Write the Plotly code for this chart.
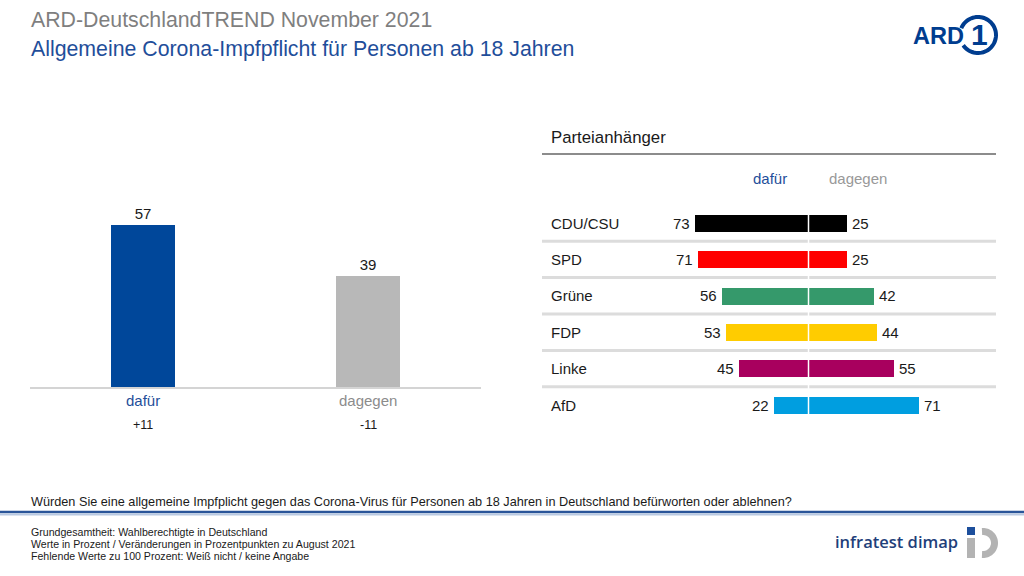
import plotly.graph_objects as go
import numpy as np

W, H = 1024, 576


def px(x):
    return x / W


def py(y):
    return 1 - y / H


FONT = "Liberation Sans, Arial, sans-serif"
BLUE = "#00479a"
GRAY = "#b8b8b8"
TEXT = "#1a1a1a"

# ---------------- data ----------------
title_1 = "ARD-DeutschlandTREND November 2021"
title_2 = "Allgemeine Corona-Impfpflicht für Personen ab 18 Jahren"
question = ("Würden Sie eine allgemeine Impfplicht gegen das Corona-Virus für Personen ab 18 Jahren "
            "in Deutschland befürworten oder ablehnen?")
footer_lines = [
    "Grundgesamtheit: Wahlberechtigte in Deutschland",
    "Werte in Prozent / Veränderungen in Prozentpunkten zu August 2021",
    "Fehlende Werte zu 100 Prozent: Weiß nicht / keine Angabe",
]

total_labels = ["dafür", "dagegen"]
total_values = [57, 39]
total_changes = ["+11", "-11"]
total_colors = [BLUE, GRAY]
total_label_colors = ["#1f4e9a", "#8c8c8c"]

panel_title = "Parteianhänger"
parties = ["CDU/CSU", "SPD", "Grüne", "FDP", "Linke", "AfD"]
party_for = [73, 71, 56, 53, 45, 22]
party_against = [25, 25, 42, 44, 55, 71]
party_colors = ["#000000", "#ff0000", "#35996b", "#ffcc00", "#a8005e", "#009ee0"]

# ---------------- figure ----------------
fig = go.Figure()

# Left: overall bars
fig.add_trace(go.Bar(
    x=total_labels, y=total_values,
    marker=dict(color=total_colors, line=dict(width=0)),
    width=0.284,
    text=[str(v) for v in total_values], textposition="outside",
    textfont=dict(size=15, color=TEXT, family=FONT),
    cliponaxis=False, showlegend=False, hoverinfo="skip",
    xaxis="x", yaxis="y",
))

# Right: party butterfly bars
fig.add_trace(go.Bar(
    y=parties, x=[-v for v in party_for], orientation="h",
    marker=dict(color=party_colors, line=dict(width=0)),
    width=0.467, showlegend=False, hoverinfo="skip",
    xaxis="x2", yaxis="y2",
))
fig.add_trace(go.Bar(
    y=parties, x=party_against, orientation="h",
    marker=dict(color=party_colors, line=dict(width=0)),
    width=0.467, showlegend=False, hoverinfo="skip",
    xaxis="x2", yaxis="y2",
))

center_px = 808.5
scale = 1.55
row_top, row_bot = 204.8, 423.2

fig.update_layout(
    width=W, height=H,
    margin=dict(l=0, r=0, t=0, b=0),
    paper_bgcolor="white", plot_bgcolor="white",
    font=dict(family=FONT, color=TEXT),
    barmode="relative",
    bargap=0,
    xaxis=dict(domain=[px(30), px(481)], range=[-0.5, 1.5], type="category",
               showticklabels=False, showgrid=False, zeroline=False,
               showline=True, linecolor="#d4d4d4", linewidth=2, ticks=""),
    yaxis=dict(domain=[py(387), py(200)], range=[0, 187 / 2.842],
               visible=False, showgrid=False, zeroline=False),
    xaxis2=dict(domain=[px(620), px(996)], anchor="y2",
                range=[(620 - center_px) / scale, (996 - center_px) / scale],
                visible=False, showgrid=False, zeroline=False),
    yaxis2=dict(domain=[py(row_bot), py(row_top)], anchor="x2", type="category",
                range=[5.5, -0.5], visible=False, showgrid=False, zeroline=False),
)

shapes = []
# row separators
for i in range(len(parties) - 1):
    shapes.append(dict(type="line", xref="paper", yref="y2",
                       x0=px(542), x1=px(996), y0=i + 0.5, y1=i + 0.5,
                       line=dict(color="#dcdcdc", width=3), layer="below"))
# white centre line
shapes.append(dict(type="line", xref="x2", yref="paper", x0=0, x1=0,
                   y0=py(row_bot), y1=py(row_top),
                   line=dict(color="white", width=1.5), layer="above"))
# panel title underline
shapes.append(dict(type="line", xref="paper", yref="paper",
                   x0=px(542), x1=px(996), y0=py(154), y1=py(154),
                   line=dict(color="#8c8c8c", width=2)))
# footer rule
shapes.append(dict(type="line", xref="paper", yref="paper",
                   x0=0, x1=1, y0=py(512), y1=py(512),
                   line=dict(color="#2a5599", width=2.5)))
shapes.append(dict(type="line", xref="paper", yref="paper",
                   x0=0, x1=1, y0=py(514.5), y1=py(514.5),
                   line=dict(color="#b9c9e2", width=2)))

# ARD logo ring
cx, cy, r = 978, 35, 18
ang = np.linspace(np.deg2rad(-145), np.deg2rad(158), 60)
pts = [(px(cx + r * np.cos(a)), py(cy - r * np.sin(a))) for a in ang]
path = "M " + " L ".join(f"{x:.5f},{y:.5f}" for x, y in pts)
shapes.append(dict(type="path", xref="paper", yref="paper", path=path,
                   line=dict(color="#003d8f", width=4)))

# infratest dimap logo
icx, icy, ir = 983, 543, 11.5
ang2 = np.linspace(np.deg2rad(95), np.deg2rad(-95), 40)
pts2 = [(px(icx + ir * np.cos(a)), py(icy - ir * np.sin(a))) for a in ang2]
path2 = "M " + " L ".join(f"{x:.5f},{y:.5f}" for x, y in pts2)
shapes.append(dict(type="path", xref="paper", yref="paper", path=path2,
                   line=dict(color="#b3b3b3", width=7)))
shapes.append(dict(type="rect", xref="paper", yref="paper",
                   x0=px(967), x1=px(975), y0=py(535), y1=py(527),
                   fillcolor="#1d4f9c", line=dict(width=0)))
shapes.append(dict(type="rect", xref="paper", yref="paper",
                   x0=px(967), x1=px(975), y0=py(558), y1=py(538),
                   fillcolor="#b3b3b3", line=dict(width=0)))
fig.update_layout(shapes=shapes)

ann = []


def add_text(text, x, y, size, color, xanchor="left", yanchor="middle", bold=False,
             xref="paper", yref="paper", family=FONT, weight=None, xshift=0):
    f = dict(size=size, color=color, family=family)
    if weight is not None:
        f["weight"] = weight
    ann.append(dict(text=f"<b>{text}</b>" if bold else text, x=x, y=y, xref=xref, yref=yref,
                    xanchor=xanchor, yanchor=yanchor, showarrow=False, font=f,
                    xshift=xshift))


add_text(title_1, px(29), py(20), 21.3, "#7f7f7f")
add_text(title_2, px(29), py(49), 21.3, "#1f4e9a")

# left chart category labels and changes
for lab, ch, col in zip(total_labels, total_changes, total_label_colors):
    ann.append(dict(text=lab, x=lab, y=py(400), xref="x", yref="paper",
                    xanchor="center", yanchor="middle", showarrow=False,
                    font=dict(size=15, color=col, family=FONT)))
    ann.append(dict(text=ch, x=lab, y=py(425), xref="x", yref="paper",
                    xanchor="center", yanchor="middle", showarrow=False,
                    font=dict(size=12.5, color=TEXT, family=FONT)))

# right panel header
add_text(panel_title, px(549), py(137), 16.8, TEXT)
add_text("dafür", px(770), py(179), 15, "#1f4e9a", xanchor="center")
add_text("dagegen", px(858), py(179), 15, "#999999", xanchor="center")
for p, vf, va in zip(parties, party_for, party_against):
    add_text(p, px(549), p, 15, TEXT, yref="y2")
    add_text(str(vf), -vf, p, 15, TEXT, xanchor="right", xref="x2", yref="y2", xshift=-3)
    add_text(str(va), va, p, 15, TEXT, xanchor="left", xref="x2", yref="y2", xshift=3)

# question and footer
add_text(question, px(29), py(502), 12.7, TEXT)
for i, line in enumerate(footer_lines):
    add_text(line, px(29), py(532 + 12 * i), 10.6, TEXT)

# logos
add_text("ARD", px(911), py(36), 23.5, "#003d8f", bold=True)
add_text("1", px(979), py(35), 30, "#003d8f", xanchor="center", bold=True)
add_text("infratest dimap", px(833), py(541), 16.5, "#1f3f7a",
         family="Open Sans, sans-serif", weight=600)

fig.update_layout(annotations=ann)
fig.write_html("out.html", config={"displayModeBar": False},
               post_script="document.body.style.margin='0';")
